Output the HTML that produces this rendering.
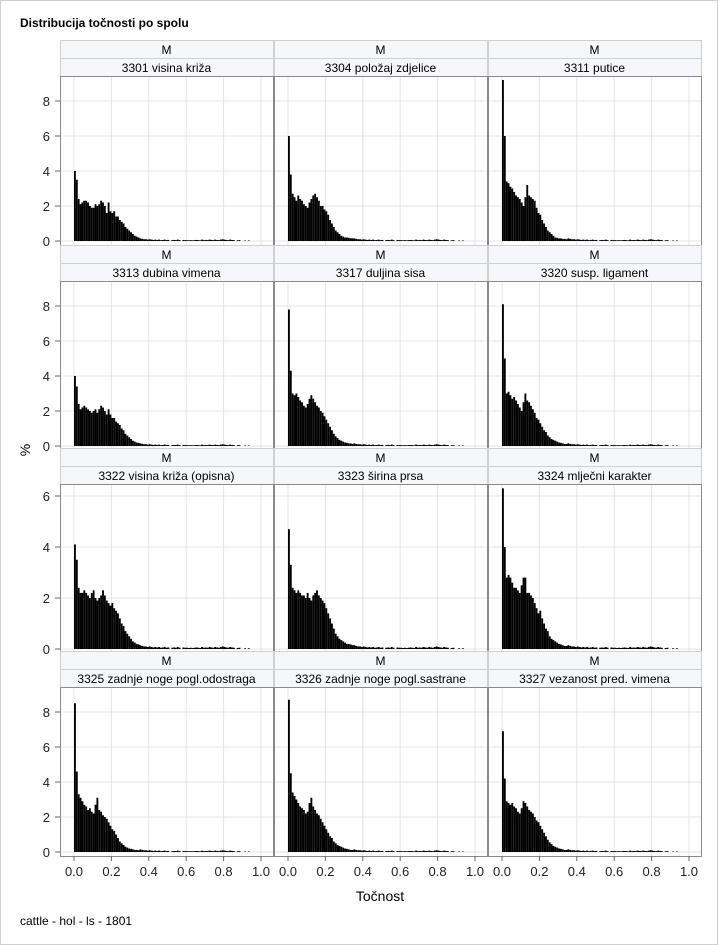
<!DOCTYPE html>
<html><head><meta charset="utf-8"><style>
body{margin:0;background:#fff}
svg{display:block;font-family:"Liberation Sans",sans-serif}
</style></head><body>
<svg id="c" width="718" height="945">
<rect x="0.5" y="0.5" width="717" height="944" fill="#fff" stroke="#d0d0d0"/>
<text x="20" y="27" font-size="12" font-weight="bold">Distribucija točnosti po spolu</text>
<text x="20" y="925" font-size="12">cattle - hol - ls - 1801</text>
<text x="380" y="901" font-size="14" text-anchor="middle">Točnost</text>
<text x="30" y="450" font-size="14" text-anchor="middle" transform="rotate(-90 30 450)">%</text>
</svg>
<script>
const titles=["3301 visina križa","3304 položaj zdjelice","3311 putice","3313 dubina vimena","3317 duljina sisa","3320 susp. ligament","3322 visina križa (opisna)","3323 širina prsa","3324 mlječni karakter","3325 zadnje noge pogl.odostraga","3326 zadnje noge pogl.sastrane","3327 vezanost pred. vimena"];
const xTicks=[0,0.2,0.4,0.6,0.8,1.0];
const xTickLabels=["0.0","0.2","0.4","0.6","0.8","1.0"];
const yTicksA=[0,2,4,6,8];
const yTicksB=[0,2,4,6];
const tail=[0.15,0.12,0.1,0.1,0.08,0.1,0.08,0.06,0.08,0.06,0.08,0.05,0.06,0.08,0.05,0.06,0,0.05,0.06,0.05,0.08,0.05,0,0.06,0.05,0.05,0.04,0.05,0.04,0.05,0.06,0.05,0.04,0.08,0.05,0.06,0.05,0.08,0.06,0.05,0.08,0.06,0.05,0.08,0.1,0.08,0.06,0.05,0.08,0.06,0.05,0,0.04,0.05,0,0,0.03,0,0.03,0];
const s1=[4.0,3.5,2.4,2.1,2.2,2.3,2.3,2.2,2.0,1.9,1.9,2.1,2.0,2.1,2.3,2.2,2.0,1.6,2.2,1.7,1.6,1.7,1.4,1.4,1.2,1.1,1.0,0.8,0.7,0.6,0.5,0.4,0.3,0.25,0.2];
const s2=[6.0,3.8,2.7,2.5,2.3,2.6,2.4,2.3,2.1,2.0,1.9,2.2,2.4,2.6,2.7,2.5,2.3,2.0,2.0,1.8,1.7,1.5,1.2,1.0,0.8,0.6,0.5,0.4,0.3,0.25,0.2,0.2,0.18,0.16,0.15];
const s3=[9.2,6.0,3.4,3.3,3.1,3.0,2.8,2.6,2.5,2.4,2.2,2.0,2.5,3.2,2.6,2.5,2.4,2.3,1.9,1.6,1.5,1.2,1.0,0.8,0.6,0.5,0.4,0.3,0.2,0.18,0.15,0.15,0.12,0.12,0.1];
const s4=[4.0,3.4,2.4,2.1,2.2,2.3,2.2,2.1,2.0,1.9,2.0,2.1,1.9,2.1,2.3,2.2,2.0,1.8,2.1,1.8,1.6,1.6,1.4,1.3,1.2,1.0,0.9,0.7,0.6,0.5,0.4,0.3,0.25,0.2,0.18];
const s5=[7.8,4.3,3.0,2.9,3.0,2.8,2.6,2.5,2.3,2.2,2.4,2.7,2.9,2.7,2.5,2.3,2.2,2.0,1.9,1.7,1.5,1.3,1.1,0.9,0.7,0.55,0.45,0.35,0.3,0.25,0.2,0.18,0.15,0.15,0.12];
const s6=[8.1,5.0,3.0,3.1,2.9,2.7,2.8,2.6,2.4,2.2,2.0,2.5,3.0,2.6,2.5,2.3,2.1,1.9,1.6,1.5,1.3,1.1,0.9,0.8,0.6,0.5,0.4,0.35,0.3,0.25,0.2,0.18,0.15,0.12,0.12];
const s7=[4.1,3.5,2.4,2.2,2.2,2.3,2.2,2.1,2.0,2.2,2.3,2.0,1.9,2.0,2.1,2.3,2.1,1.9,1.8,1.7,1.8,1.6,1.5,1.4,1.2,1.0,0.9,0.7,0.6,0.5,0.4,0.3,0.25,0.2,0.18];
const s8=[4.7,3.3,2.4,2.3,2.2,2.3,2.2,2.1,2.1,2.0,2.2,2.0,1.9,2.1,2.2,2.3,2.1,2.0,1.9,1.8,1.6,1.4,1.2,1.0,0.8,0.6,0.5,0.4,0.35,0.3,0.25,0.2,0.2,0.18,0.15];
const s9=[6.3,4.0,2.8,2.9,2.8,2.6,2.4,2.4,2.3,2.2,2.5,2.8,2.8,2.2,2.2,2.1,2.0,1.8,1.6,1.4,1.5,1.2,1.0,0.8,0.7,0.5,0.4,0.35,0.3,0.25,0.2,0.18,0.15,0.12,0.12];
const s10=[8.5,4.6,3.3,3.1,2.9,2.7,2.6,2.4,2.5,2.3,2.2,2.7,3.1,2.4,2.3,2.1,2.0,1.9,1.7,1.5,1.3,1.2,1.0,0.8,0.6,0.5,0.4,0.3,0.25,0.2,0.18,0.15,0.12,0.12,0.1];
const s11=[8.7,4.5,3.4,3.2,3.0,2.8,2.6,2.5,2.4,2.2,2.3,2.8,3.1,2.6,2.4,2.2,2.1,1.9,1.7,1.5,1.3,1.1,0.9,0.8,0.6,0.5,0.4,0.35,0.3,0.25,0.2,0.18,0.15,0.12,0.12];
const s12=[6.9,4.2,2.9,2.8,2.7,2.8,2.6,2.5,2.3,2.2,2.5,2.9,2.8,2.6,2.4,2.3,2.2,2.0,1.8,1.7,1.5,1.3,1.1,0.9,0.7,0.55,0.45,0.35,0.3,0.25,0.2,0.18,0.15,0.12,0.12];
const series=[s1,s2,s3,s4,s5,s6,s7,s8,s9,s10,s11,s12];
const binW=0.01;
const NS="http://www.w3.org/2000/svg";
const svg=document.getElementById('c');
function mk(t,a,p){const e=document.createElementNS(NS,t);for(const k in a)e.setAttribute(k,a[k]);(p||svg).appendChild(e);return e;}
const colL=[60,274,488], colW=213;
const rowTop=[40,245,448,651];
const rowPPU=[17.5,17.5,25.5,17.5];
function xs(c,v){return colL[c]+14+v*187;}
function ys(r,v){return rowTop[r]+201-v*rowPPU[r];}
for(let r=0;r<4;r++){
  const yt=r===2?yTicksB:yTicksA;
  // y tick labels
  yt.forEach(t=>{
    const tx=mk('text',{x:50,y:ys(r,t)+5,'font-size':13,'text-anchor':'end',fill:'#222'});
    
    
    tx.textContent=t;
    const tl=mk('line',{x1:55,x2:60,y1:ys(r,t),y2:ys(r,t),stroke:'#666'});
    
    
  });
  for(let c=0;c<3;c++){
    const i=r*3+c, L=colL[c], T=rowTop[r];
    const g=mk('g',{});
    
    
    const s1r=mk('rect',{x:L+0.5,y:T+0.5,width:colW,height:18,fill:'#f6f7fd',stroke:'#d0d0d0'},g);
    
    
    const s2r=mk('rect',{x:L+0.5,y:T+18.5,width:colW,height:18,fill:'#f6f7fd',stroke:'#d0d0d0'},g);
    
    
    const m=mk('text',{x:L+colW/2,y:T+14,'font-size':12,'text-anchor':'middle'},g);
    
    
    m.textContent='M';
    const tt=mk('text',{x:L+colW/2,y:T+32,'font-size':12,'text-anchor':'middle'},g);
    
    
    tt.textContent=titles[i];
    const PT=T+36, PB=T+205;
    xTicks.forEach(v=>{
      const gl=mk('line',{x1:xs(c,v),x2:xs(c,v),y1:PT,y2:PB,stroke:'#e4e4e4'},g);
      
      
    });
    yt.forEach(v=>{
      const gl=mk('line',{x1:L,x2:L+colW,y1:ys(r,v),y2:ys(r,v),stroke:'#e4e4e4'},g);
      
      
    });
    const data=series[i].concat(tail);
    data.forEach((v,k)=>{
      if(v<=0)return;
      const x0=xs(c,k*binW), x1=xs(c,(k+1)*binW);
      const b=mk('rect',{x:x0,y:ys(r,v),width:x1-x0,height:ys(r,0)-ys(r,v),fill:'#000'},g);
      
      
    });
    const fr=mk('rect',{x:L+0.5,y:PT+0.5,width:colW,height:PB-PT,fill:'none',stroke:'#8a8a8a'},g);
    
    
    if(r===3){
      xTicks.forEach((v,k)=>{
        const tl=mk('line',{x1:xs(c,v),x2:xs(c,v),y1:PB,y2:PB+5,stroke:'#666'});
        
        
        const tx=mk('text',{x:xs(c,v),y:PB+20,'font-size':13,'text-anchor':'middle',fill:'#222'});
        
        
        tx.textContent=xTickLabels[k];
      });
    }
  }
}
</script>
</body></html>
